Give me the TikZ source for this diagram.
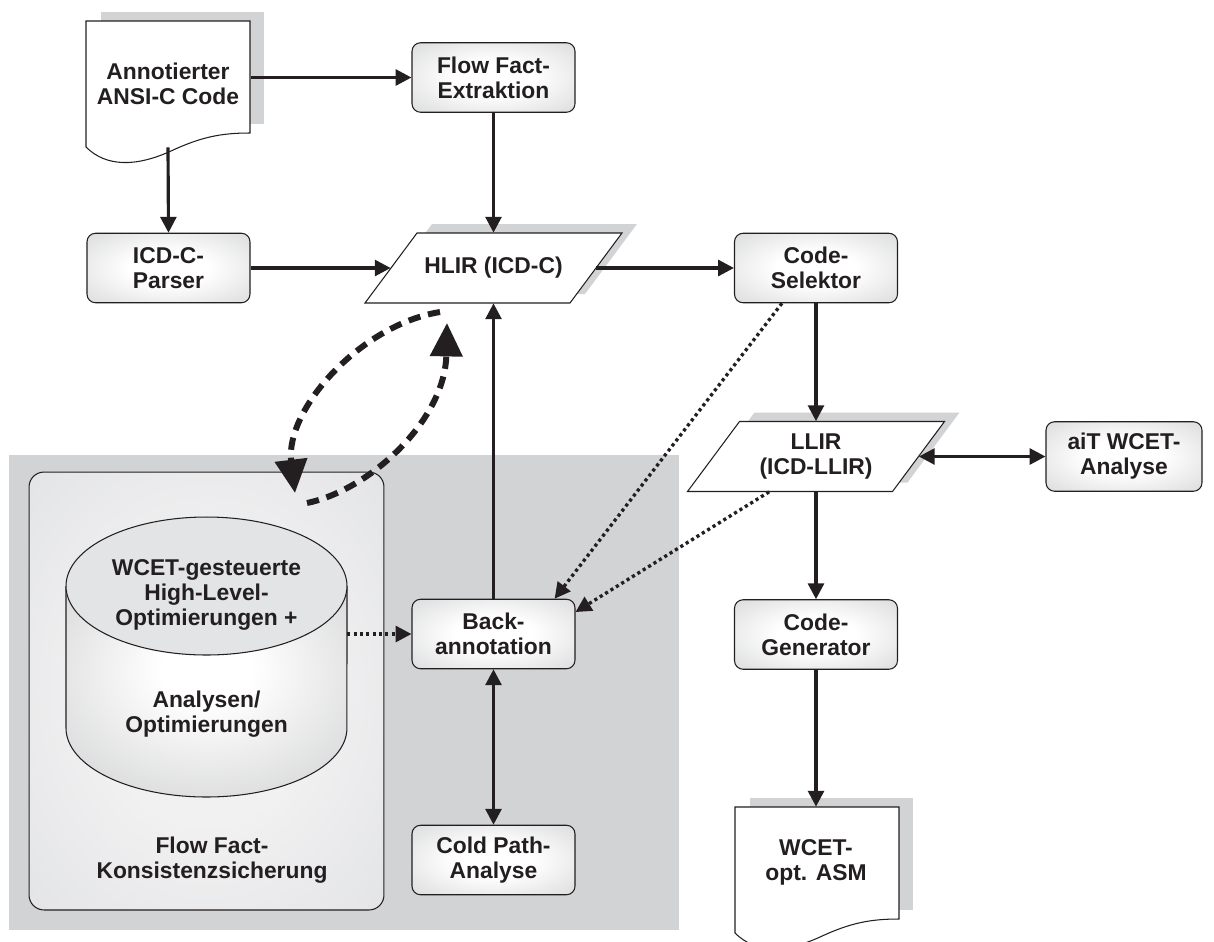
\documentclass[tikz,border=0pt]{standalone}
\usepackage{fontspec}
\setmainfont{Liberation Sans}
\usetikzlibrary{arrows.meta}

\definecolor{ink}{HTML}{231F20}
\definecolor{zonegrey}{HTML}{D2D3D5}
\definecolor{shadowgrey}{HTML}{D2D3D5}
\definecolor{boxedge}{HTML}{C6C7C9}
\definecolor{panelcore}{HTML}{F1F1F2}
\definecolor{paneledge}{HTML}{DADBDD}
\definecolor{drumedge}{HTML}{BFC0C2}
\definecolor{drumlid}{HTML}{E3E4E5}
\newcommand\diagfont{\fontsize{13}{14.2}\selectfont\bfseries}

% soft radial glows, fitted to the bounding box of the shaded path
\pgfdeclareradialshading{boxglow}{\pgfpoint{0bp}{0bp}}{color(0bp)=(white); color(12bp)=(white); color(50bp)=(boxedge); color(72bp)=(boxedge)}
\pgfdeclareradialshading{panelglow}{\pgfpoint{0bp}{0bp}}{color(0bp)=(panelcore); color(15bp)=(panelcore); color(50bp)=(paneledge); color(72bp)=(paneledge)}
\pgfdeclareradialshading{drumglow}{\pgfpoint{0bp}{6bp}}{color(0bp)=(white); color(8bp)=(white); color(50bp)=(drumedge); color(80bp)=(drumedge)}

\begin{document}
\begin{tikzpicture}[x=0.02cm, y=-0.02cm,
  proc/.style={rectangle, rounded corners=0.17cm, draw=ink, line width=0.6pt,
    shade, shading=boxglow, minimum width=3.26cm, minimum height=1.39cm,
    align=center, font=\diagfont, text=ink, inner sep=0pt},
  io/.style={rectangle, minimum width=4.1cm, minimum height=1.4cm,
    align=center, font=\diagfont, text=ink, inner sep=0pt},
  txt/.style={align=center, font=\diagfont, text=ink, inner sep=0pt},
  flow/.style={draw=ink, line width=1.8pt, -{Triangle[length=9pt,width=9pt]}},
  biflow/.style={draw=ink, line width=1.8pt, {Triangle[length=9pt,width=9pt]}-{Triangle[length=9pt,width=9pt]}},
  hint/.style={draw=ink, line width=1.9pt, dash pattern=on 1.8pt off 1.8pt, -{Triangle[length=9pt,width=9pt]}},
  sync/.style={draw=ink, line width=3.4pt, dash pattern=on 7pt off 4.5pt, -{Triangle[length=19pt,width=18pt]}},
  docsheet/.pic={
    \fill[shadowgrey] (15,-9) rectangle (178,103);
    \filldraw[fill=white, draw=ink, line width=0.6pt]
      (0,0) -- (164,0) -- (164,112)
      .. controls (135,112) and (115,116) .. (85,130)
      .. controls (50,146) and (20,146) .. (0,126) -- cycle;
  },
  slab/.pic={
    \fill[shadowgrey] (-61.5,-44) -- (143.5,-44) -- (91.5,26) -- (-113.5,26) -- cycle;
    \filldraw[fill=white, draw=ink, line width=0.6pt]
      (-76.5,-35) -- (128.5,-35) -- (76.5,35) -- (-128.5,35) -- cycle;
  },
]
\useasboundingbox (0,0) rectangle (1214,941);
\clip (0,0) rectangle (1214,941);

% grey zone of the high-level part
\fill[zonegrey] (9,455) rectangle (679,930);

% flow fact consistency panel
\node[draw=ink, line width=0.6pt, rounded corners=0.3cm, shade, shading=panelglow,
      minimum width=7.1cm, minimum height=8.76cm] (ffk) at (206.5,691) {};
\node[txt] (ffktext) at (212,860) {Flow Fact-\\Konsistenzsicherung};

% optimisation drum
\shade[shading=drumglow]
  (66,586) -- (66,728) arc[start angle=180, end angle=360, x radius=2.81cm, y radius=1.38cm] -- (347,586) -- cycle;
\draw[ink, line width=0.6pt]
  (66,586) -- (66,728) arc[start angle=180, end angle=360, x radius=2.81cm, y radius=1.38cm] -- (347,586);
\filldraw[fill=drumlid, draw=ink, line width=0.6pt] (206.5,586) ellipse[x radius=2.81cm, y radius=1.38cm];
\node[minimum width=5.62cm, minimum height=5.6cm, inner sep=0pt] (cyl) at (206.5,657) {};
\node[txt] (cyltop) at (206.5,595) {WCET-gesteuerte\\High-Level-\\Optimierungen +};
\node[txt] (cylbot) at (206.5,714) {Analysen/\\Optimierungen};

% documents
\pic at (86,21) {docsheet};
\node[txt, minimum width=3.3cm, minimum height=2.52cm] (acode) at (168,84) {Annotierter\\ANSI-C Code};
\pic at (735,807) {docsheet};
\node[txt, minimum width=3.28cm, minimum height=2.2cm] (asm) at (816,862) {WCET-\\opt. ASM};

% intermediate representations
\pic at (493.5,268) {slab};
\node[io] (hlir) at (493.5,268) {HLIR (ICD-C)};
\pic at (816,456.5) {slab};
\node[io] (llir) at (816,456.5) {LLIR\\(ICD-LLIR)};

% processing steps
\node[proc] (ffe) at (493.5,77.5) {Flow Fact-\\Extraktion};
\node[proc] (parser) at (168.5,268) {ICD-C-\\Parser};
\node[proc] (csel) at (816,268) {Code-\\Selektor};
\node[proc, minimum width=3.12cm] (ait) at (1124,456.5) {aiT WCET-\\Analyse};
\node[proc] (cgen) at (816,634.5) {Code-\\Generator};
\node[proc] (back) at (493.5,634) {Back-\\annotation};
\node[proc] (cold) at (493.5,860) {Cold Path-\\Analyse};

% connectors
\draw[flow] (acode.east |- ffe.west) -- (ffe.west);
\draw[flow] (acode.south) -- (parser.north);
\draw[flow] (ffe) -- (hlir);
\draw[flow] (parser) -- (hlir);
\draw[flow] (hlir) -- (csel);
\draw[flow] (csel) -- (llir);
\draw[biflow] (llir) -- (ait);
\draw[flow] (llir) -- (cgen);
\draw[flow] (cgen) -- (asm.north);
\draw[flow] (back) -- (hlir);
\draw[biflow] (back) -- (cold);

\draw[hint] (cyl.east |- back.west) -- (back.west);
\draw[hint] (csel.-134) -- (back.30);
\draw[hint] (llir.217) -- (back.15);

% round trip between HLIR and the consistency panel
\coordinate (syncA) at (440,312);
\coordinate (syncB) at (295,493);
\coordinate (syncC) at (307,503);
\coordinate (syncD) at (447,323);
\draw[sync] (syncA) .. controls (360,325) and (285,410) .. (syncB);
\draw[sync] (syncC) .. controls (370,490) and (445,420) .. (syncD);
\end{tikzpicture}
\end{document}
